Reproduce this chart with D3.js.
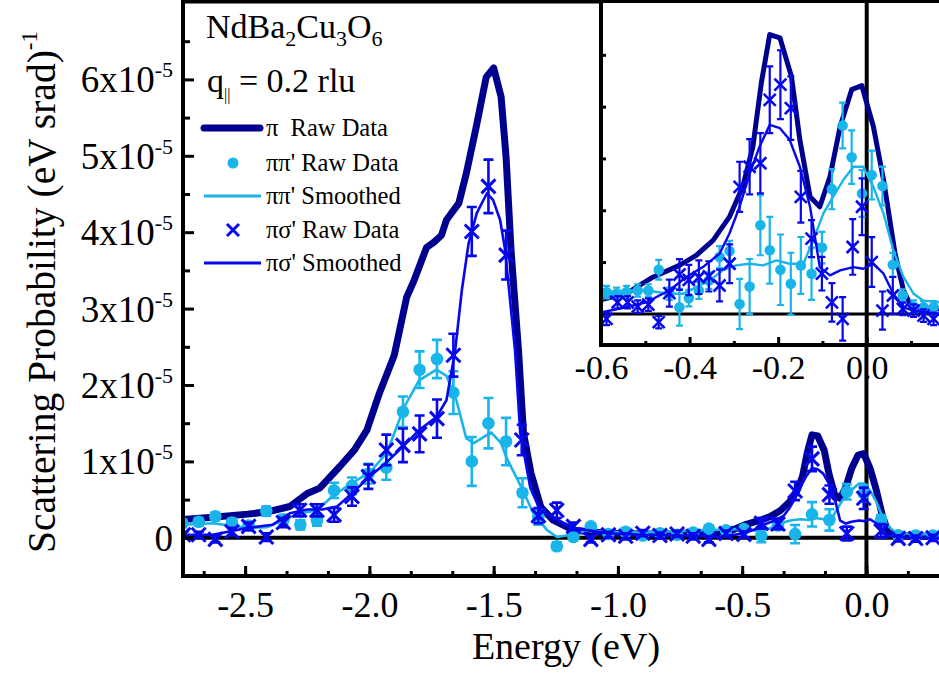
<!DOCTYPE html>
<html>
<head>
<meta charset="utf-8">
<script src="https://cdn.jsdelivr.net/npm/d3@7"></script>
<style>
  html, body { margin: 0; padding: 0; background: #fff; }
  svg { display: block; font-family: "Liberation Serif", "Times New Roman", serif; }
</style>
</head>
<body>
<svg id="chart" width="939" height="675"></svg>
<script>
/* NdBa2Cu3O6, q|| = 0.2 rlu : RIXS scattering probability vs energy loss,
   with a zoomed inset of the low-energy region. Values in units of 1e-5. */

// π raw data (energy eV, value)
const piRaw = [
  [-2.75, 0.24], [-2.63, 0.27], [-2.49, 0.31], [-2.41, 0.34], [-2.32, 0.41], [-2.25, 0.58],
  [-2.20, 0.65], [-2.12, 0.93], [-2.06, 1.15], [-2.01, 1.41], [-1.96, 1.89], [-1.90, 2.39],
  [-1.85, 3.15], [-1.82, 3.37], [-1.77, 3.80], [-1.74, 3.87], [-1.71, 3.96], [-1.69, 4.16],
  [-1.64, 4.38], [-1.61, 4.77], [-1.57, 5.38], [-1.53, 6.03], [-1.50, 6.15], [-1.47, 5.77],
  [-1.45, 4.98], [-1.43, 3.76], [-1.40, 2.45], [-1.38, 1.37], [-1.35, 0.85], [-1.31, 0.40],
  [-1.26, 0.23], [-1.18, 0.10], [-1.04, 0.06], [-0.90, 0.05], [-0.76, 0.05], [-0.65, 0.07],
  [-0.597, 0.07], [-0.544, 0.097], [-0.483, 0.177], [-0.423, 0.234], [-0.385, 0.282],
  [-0.347, 0.355], [-0.310, 0.468], [-0.280, 0.613], [-0.257, 0.807], [-0.238, 1.114],
  [-0.219, 1.348], [-0.196, 1.332], [-0.170, 1.146], [-0.151, 0.840], [-0.128, 0.565],
  [-0.106, 0.517], [-0.083, 0.662], [-0.060, 0.904], [-0.034, 1.082], [-0.011, 1.101],
  [0.015, 0.904], [0.038, 0.646], [0.064, 0.291], [0.083, 0.113], [0.098, 0.048],
  [0.121, 0.032], [0.164, 0.024], [0.30, 0.02]
];

// ππ' smoothed
const ppSmooth = [
  [-2.76, 0.17], [-2.63, 0.19], [-2.49, 0.13], [-2.41, 0.14], [-2.35, 0.23], [-2.28, 0.32],
  [-2.21, 0.36], [-2.15, 0.54], [-2.07, 0.72], [-2.00, 0.85], [-1.93, 1.11], [-1.86, 1.71],
  [-1.80, 2.06], [-1.73, 2.20], [-1.69, 2.12], [-1.65, 1.80], [-1.61, 1.30], [-1.58, 1.24],
  [-1.51, 1.38], [-1.47, 1.24], [-1.45, 1.06], [-1.39, 0.67], [-1.34, 0.32], [-1.285, 0.10],
  [-1.245, 0.01], [-1.19, 0.04], [-1.12, 0.10], [-1.06, 0.08], [-0.90, 0.07], [-0.75, 0.09],
  [-0.65, 0.10], [-0.597, 0.105], [-0.544, 0.113], [-0.498, 0.113], [-0.446, 0.097],
  [-0.415, 0.097], [-0.385, 0.129], [-0.355, 0.161], [-0.325, 0.210], [-0.295, 0.234],
  [-0.264, 0.242], [-0.234, 0.234], [-0.204, 0.258], [-0.174, 0.242], [-0.143, 0.242],
  [-0.121, 0.355], [-0.098, 0.484], [-0.076, 0.565], [-0.053, 0.646], [-0.030, 0.710],
  [-0.008, 0.710], [0.015, 0.613], [0.038, 0.484], [0.060, 0.307], [0.083, 0.177],
  [0.106, 0.097], [0.128, 0.064], [0.164, 0.056], [0.30, 0.04]
];

// πσ' smoothed
const psSmooth = [
  [-2.76, 0.04], [-2.63, 0.04], [-2.49, 0.13], [-2.39, 0.17], [-2.32, 0.32], [-2.25, 0.37],
  [-2.19, 0.37], [-2.13, 0.41], [-2.07, 0.58], [-2.00, 0.80], [-1.93, 0.99], [-1.86, 1.21],
  [-1.80, 1.41], [-1.73, 1.58], [-1.69, 1.80], [-1.655, 2.45], [-1.628, 3.24], [-1.601, 3.85],
  [-1.568, 4.25], [-1.527, 4.51], [-1.502, 4.42], [-1.474, 4.16], [-1.454, 3.77], [-1.434, 3.11],
  [-1.414, 2.45], [-1.393, 1.37], [-1.353, 0.66], [-1.313, 0.36], [-1.261, 0.27], [-1.194, 0.14],
  [-1.124, 0.10], [-1.043, 0.06], [-0.90, 0.04], [-0.75, 0.03], [-0.65, 0.02],
  [-0.597, 0.008], [-0.544, 0.032], [-0.498, 0.056], [-0.446, 0.113], [-0.408, 0.177],
  [-0.370, 0.226], [-0.332, 0.291], [-0.310, 0.388], [-0.287, 0.517], [-0.264, 0.678],
  [-0.242, 0.807], [-0.219, 0.912], [-0.196, 0.896], [-0.174, 0.840], [-0.151, 0.710],
  [-0.128, 0.517], [-0.106, 0.226], [-0.083, 0.186], [-0.060, 0.210], [-0.030, 0.226],
  [-0.008, 0.218], [0.015, 0.242], [0.038, 0.194], [0.060, 0.097], [0.083, 0.032],
  [0.106, 0.016], [0.164, 0.0], [0.30, 0.0]
];

// ππ' raw points in the main panel (energy, value, error)
const ppRawMain = [
  [-2.753, 0.19, 0.05], [-2.687, 0.21, 0.05], [-2.620, 0.28, 0.05], [-2.553, 0.20, 0.05],
  [-2.486, 0.16, 0.05], [-2.415, 0.35, 0.06], [-2.346, 0.24, 0.06], [-2.278, 0.17, 0.06],
  [-2.211, 0.23, 0.07], [-2.142, 0.62, 0.10], [-2.070, 0.68, 0.11], [-2.004, 0.84, 0.13],
  [-1.932, 0.92, 0.16], [-1.865, 1.65, 0.20], [-1.798, 2.20, 0.24], [-1.728, 2.34, 0.25],
  [-1.662, 1.90, 0.28], [-1.588, 1.00, 0.32], [-1.521, 1.50, 0.33], [-1.450, 1.26, 0.31],
  [-1.384, 0.59, 0.19], [-1.320, 0.27, 0.10], [-1.246, -0.11, 0.05], [-1.179, 0.01, 0.04],
  [-1.109, 0.15, 0.04], [-1.038, 0.05, 0.04], [-0.969, 0.08, 0.04], [-0.900, 0.03, 0.04],
  [-0.831, 0.06, 0.04], [-0.762, 0.04, 0.04], [-0.697, 0.07, 0.04], [-0.634, 0.12, 0.04],
  [-0.565, 0.097, 0.04], [-0.493, 0.113, 0.04], [-0.423, 0.032, 0.09], [-0.356, 0.161, 0.05],
  [-0.287, 0.048, 0.12], [-0.219, 0.307, 0.16], [-0.149, 0.234, 0.14], [-0.079, 0.602, 0.10],
  [-0.011, 0.581, 0.11], [0.059, 0.237, 0.06], [0.128, 0.032, 0.03], [0.198, 0.03, 0.03],
  [0.268, 0.03, 0.03]
];

// πσ' raw points in the main panel (energy, value, error)
const psRawMain = [
  [-2.748, 0.04, 0.04], [-2.687, 0.04, 0.04], [-2.620, -0.02, 0.04], [-2.553, 0.08, 0.05],
  [-2.486, 0.15, 0.05], [-2.415, 0.01, 0.05], [-2.346, 0.20, 0.06], [-2.281, 0.36, 0.08],
  [-2.211, 0.36, 0.08], [-2.142, 0.30, 0.09], [-2.070, 0.54, 0.12], [-2.004, 0.80, 0.16],
  [-1.932, 1.15, 0.20], [-1.865, 1.21, 0.22], [-1.798, 1.36, 0.24], [-1.728, 1.56, 0.25],
  [-1.662, 2.39, 0.28], [-1.588, 4.01, 0.32], [-1.521, 4.60, 0.35], [-1.450, 3.70, 0.32],
  [-1.387, 1.28, 0.20], [-1.320, 0.29, 0.10], [-1.246, 0.36, 0.10], [-1.179, 0.15, 0.05],
  [-1.109, -0.02, 0.04], [-1.038, 0.04, 0.04], [-0.969, 0.02, 0.04], [-0.900, 0.06, 0.04],
  [-0.831, 0.03, 0.04], [-0.762, 0.05, 0.04], [-0.697, 0.02, 0.04], [-0.634, -0.02, 0.04],
  [-0.565, 0.056, 0.04], [-0.493, 0.045, 0.04], [-0.423, 0.190, 0.07], [-0.356, 0.181, 0.07],
  [-0.287, 0.613, 0.12], [-0.219, 1.033, 0.16], [-0.149, 0.565, 0.12], [-0.079, 0.056, 0.09],
  [-0.011, 0.517, 0.14], [0.059, 0.089, 0.09], [0.128, -0.008, 0.04], [0.198, -0.01, 0.04],
  [0.268, 0.0, 0.04]
];

// ππ' raw points in the inset (denser sampling)
const ppRawInset = [
  [-0.5875, 0.105, 0.03], [-0.5648, 0.097, 0.03], [-0.5422, 0.105, 0.03], [-0.5172, 0.113, 0.03],
  [-0.4931, 0.113, 0.03], [-0.4697, 0.213, 0.048], [-0.4456, 0.097, 0.03], [-0.4229, 0.032, 0.089],
  [-0.4017, 0.076, 0.04], [-0.3791, 0.113, 0.04], [-0.3564, 0.161, 0.04], [-0.3323, 0.274, 0.053],
  [-0.3097, 0.303, 0.05], [-0.2870, 0.048, 0.121], [-0.2644, 0.132, 0.133], [-0.2402, 0.428, 0.145],
  [-0.2190, 0.307, 0.161], [-0.1949, 0.213, 0.170], [-0.1714, 0.145, 0.150], [-0.1488, 0.234, 0.137],
  [-0.1246, 0.194, 0.126], [-0.1012, 0.320, 0.076], [-0.0786, 0.602, 0.097], [-0.0544, 0.909, 0.110],
  [-0.0340, 0.756, 0.129], [-0.0106, 0.581, 0.113], [0.0113, 0.670, 0.118], [0.0355, 0.617, 0.094],
  [0.0589, 0.237, 0.057], [0.0815, 0.089, 0.03], [0.1057, 0.035, 0.03], [0.1284, 0.032, 0.03],
  [0.1510, 0.032, 0.03]
];

// πσ' raw points in the inset
const psRawInset = [
  [-0.5875, -0.024, 0.03], [-0.5626, 0.056, 0.03], [-0.5399, 0.056, 0.03], [-0.5172, 0.035, 0.03],
  [-0.4931, 0.045, 0.03], [-0.4697, -0.040, 0.03], [-0.4456, 0.100, 0.065], [-0.4229, 0.190, 0.074],
  [-0.4017, 0.164, 0.073], [-0.3791, 0.177, 0.081], [-0.3564, 0.181, 0.073], [-0.3323, 0.137, 0.077],
  [-0.3097, 0.242, 0.093], [-0.2870, 0.613, 0.121], [-0.2644, 0.710, 0.133], [-0.2402, 0.727, 0.145],
  [-0.2190, 1.033, 0.161], [-0.1949, 1.106, 0.166], [-0.1714, 0.993, 0.153], [-0.1488, 0.565, 0.125],
  [-0.1246, 0.363, 0.089], [-0.1012, 0.194, 0.081], [-0.0786, 0.056, 0.093], [-0.0544, -0.024, 0.105],
  [-0.0317, 0.323, 0.134], [-0.0106, 0.517, 0.137], [0.0113, 0.250, 0.120], [0.0355, 0.016, 0.092],
  [0.0589, 0.089, 0.089], [0.0815, 0.024, 0.03], [0.1057, 0.016, 0.03], [0.1284, -0.008, 0.03],
  [0.1510, -0.024, 0.03]
];

// axis ticks
const xMajor = [-2.5, -2.0, -1.5, -1.0, -0.5, 0.0];
const xMinor = d3.range(-2.6667, 0.3, 1 / 6);
const yMajor = [0, 1, 2, 3, 4, 5, 6];
const yMinor = [-0.5, 0.5, 1.5, 2.5, 3.5, 4.5, 5.5, 6.5];
const insetXMajor = [-0.6, -0.4, -0.2, 0.0];
const insetXMinor = [-0.5, -0.3, -0.1, 0.1];
const insetYTicks = [0.25, 0.5, 0.75, 1.0, 1.25];

const legendItems = ["π\u00A0\u00A0Raw Data", "ππ' Raw Data", "ππ' Smoothed", "πσ' Raw Data", "πσ' Smoothed"];

const C_PI = "#00008F";
const C_PP = "#18B4EA";
const C_PS = "#0707EE";
const SERIF = "Liberation Serif, Times New Roman, serif";

const svg = d3.select("#chart");
const defs = svg.append("defs");

// main scales
const x = d3.scaleLinear().domain([-2.75, 0.3]).range([183, 941]);
const y = d3.scaleLinear().domain([-0.5, 7]).range([576, 3]);
// inset scales
const xi = d3.scaleLinear().domain([-0.6, 0.2]).range([601, 955.3]);
const yi = d3.scaleLinear().domain([-0.15, 1.5]).range([345, 3]);

defs.append("clipPath").attr("id", "clipMain").append("rect")
  .attr("x", 183).attr("y", 3).attr("width", 758).attr("height", 573);
defs.append("clipPath").attr("id", "clipInset").append("rect")
  .attr("x", 601).attr("y", 3).attr("width", 354).attr("height", 342);

function drawSeries(g, sx, sy, ppPts, psPts, o) {
  const line = d3.line().x(d => sx(d[0])).y(d => sy(d[1]));
  g.append("path").datum(piRaw).attr("d", line).attr("fill", "none")
    .attr("stroke", C_PI).attr("stroke-width", o.thick).attr("stroke-linejoin", "round");

  // ππ' error bars + circles
  const pp = g.append("g");
  pp.selectAll("path.err").data(ppPts).join("path").attr("class", "err")
    .attr("d", d => {
      const cx = sx(d[0]), t = sy(d[1] + d[2]), b = sy(d[1] - d[2]), w = o.cap;
      return `M${cx},${t}V${b}M${cx - w},${t}H${cx + w}M${cx - w},${b}H${cx + w}`;
    })
    .attr("stroke", C_PP).attr("stroke-width", o.errW).attr("fill", "none");
  pp.selectAll("circle").data(ppPts).join("circle")
    .attr("cx", d => sx(d[0])).attr("cy", d => sy(d[1])).attr("r", o.r).attr("fill", C_PP);
  g.append("path").datum(ppSmooth).attr("d", line).attr("fill", "none")
    .attr("stroke", C_PP).attr("stroke-width", o.thin).attr("stroke-linejoin", "round");

  // πσ' error bars + crosses
  const ps = g.append("g");
  ps.selectAll("path.err").data(psPts).join("path").attr("class", "err")
    .attr("d", d => {
      const cx = sx(d[0]), t = sy(d[1] + d[2]), b = sy(d[1] - d[2]), w = o.cap;
      return `M${cx},${t}V${b}M${cx - w},${t}H${cx + w}M${cx - w},${b}H${cx + w}`;
    })
    .attr("stroke", C_PS).attr("stroke-width", o.errW).attr("fill", "none");
  ps.selectAll("path.x").data(psPts).join("path").attr("class", "x")
    .attr("d", d => {
      const cx = sx(d[0]), cy = sy(d[1]), s = o.xs;
      return `M${cx - s},${cy - s}L${cx + s},${cy + s}M${cx - s},${cy + s}L${cx + s},${cy - s}`;
    })
    .attr("stroke", C_PS).attr("stroke-width", o.xw).attr("fill", "none");
  g.append("path").datum(psSmooth).attr("d", line).attr("fill", "none")
    .attr("stroke", C_PS).attr("stroke-width", o.thin).attr("stroke-linejoin", "round");
}

// ---------- main panel ----------
// zero lines
svg.append("line").attr("x1", 183).attr("x2", 941).attr("y1", y(0)).attr("y2", y(0))
  .attr("stroke", "#000").attr("stroke-width", 4);
svg.append("line").attr("x1", x(0)).attr("x2", x(0)).attr("y1", 3).attr("y2", 576)
  .attr("stroke", "#000").attr("stroke-width", 4);

const gMain = svg.append("g").attr("clip-path", "url(#clipMain)");
drawSeries(gMain, x, y, ppRawMain, psRawMain,
  { thick: 7, thin: 2.6, r: 6.3, cap: 5, errW: 2.6, xs: 7, xw: 3 });

// x axis (ticks inward)
const xAxis = svg.append("g").attr("transform", "translate(0,576)")
  .call(d3.axisBottom(x).tickValues(xMajor).tickSize(-10).tickPadding(15)
    .tickFormat(d3.format(".1f")));
xAxis.select(".domain").remove();
xAxis.selectAll(".tick line").attr("stroke-width", 3);
xAxis.selectAll("text").attr("font-size", 36).attr("font-family", SERIF)
  .attr("fill", "#000").text(d => d3.format(".1f")(d).replace("−", "-"));
svg.append("g").attr("transform", "translate(0,576)")
  .call(d3.axisBottom(x).tickValues(xMinor).tickSize(-5).tickFormat(""))
  .call(a => a.select(".domain").remove())
  .selectAll(".tick line").attr("stroke-width", 3);

// y axis (ticks inward)
const yAxis = svg.append("g").attr("transform", "translate(183,0)")
  .call(d3.axisLeft(y).tickValues(yMajor).tickSize(-11).tickPadding(10));
yAxis.select(".domain").remove();
yAxis.selectAll(".tick line").attr("stroke-width", 3);
yAxis.selectAll("text").attr("font-size", 37).attr("font-family", SERIF)
  .attr("fill", "#000").attr("dy", "0.34em")
  .each(function (d) {
    const t = d3.select(this).text("");
    if (d === 0) { t.text("0"); return; }
    t.append("tspan").text(d + "x10");
    t.append("tspan").attr("font-size", 22).attr("dy", -15).text("-5");
  });
svg.append("g").attr("transform", "translate(183,0)")
  .call(d3.axisLeft(y).tickValues(yMinor).tickSize(-7).tickFormat(""))
  .call(a => a.select(".domain").remove())
  .selectAll(".tick line").attr("stroke-width", 3);

// frame
svg.append("path").attr("d", "M941,1.5H183V576H941").attr("fill", "none")
  .attr("stroke", "#000").attr("stroke-width", 4);

// axis titles
svg.append("text").attr("x", 566).attr("y", 659).attr("text-anchor", "middle")
  .attr("font-size", 38).text("Energy (eV)");
const yt = svg.append("text").attr("transform", "translate(55,292) rotate(-90)")
  .attr("text-anchor", "middle").attr("font-size", 39.5);
yt.append("tspan").text("Scattering Probability (eV srad)");
yt.append("tspan").attr("font-size", 23).attr("dy", -18).text("-1");

// sample text
const t1 = svg.append("text").attr("x", 206).attr("y", 38).attr("font-size", 34);
[["NdBa", 0], ["2", 1], ["Cu", 0], ["3", 1], ["O", 0], ["6", 1]].forEach(([s, sub], i, arr) => {
  const prevSub = i > 0 && arr[i - 1][1];
  t1.append("tspan").text(s).attr("font-size", sub ? 22 : 34)
    .attr("dy", sub ? 8 : (prevSub ? -8 : 0));
});
const t2 = svg.append("text").attr("x", 207).attr("y", 92).attr("font-size", 34);
t2.append("tspan").text("q");
t2.append("tspan").attr("font-size", 16).attr("dy", 8).text("||");
t2.append("tspan").attr("dy", -8).text(" = 0.2 rlu");

// legend
const legY = [128, 163, 196, 230, 263];
const lg = svg.append("g");
lg.append("line").attr("x1", 204).attr("x2", 260).attr("y1", legY[0]).attr("y2", legY[0])
  .attr("stroke", C_PI).attr("stroke-width", 7).attr("stroke-linecap", "round");
lg.append("circle").attr("cx", 233).attr("cy", legY[1]).attr("r", 5.5).attr("fill", C_PP);
lg.append("line").attr("x1", 204).attr("x2", 261).attr("y1", legY[2]).attr("y2", legY[2])
  .attr("stroke", C_PP).attr("stroke-width", 3);
lg.append("path").attr("d", `M227,${legY[3] - 6}l12,12M227,${legY[3] + 6}l12,-12`)
  .attr("stroke", C_PS).attr("stroke-width", 3);
lg.append("line").attr("x1", 204).attr("x2", 261).attr("y1", legY[4]).attr("y2", legY[4])
  .attr("stroke", C_PS).attr("stroke-width", 3);
lg.selectAll("text").data(legendItems).join("text")
  .attr("x", 266).attr("y", (d, i) => legY[i] + 8).attr("font-size", 24.5).text(d => d);

// ---------- inset ----------
svg.append("rect").attr("x", 601).attr("y", 3).attr("width", 340).attr("height", 342).attr("fill", "#fff");
svg.append("line").attr("x1", 601).attr("x2", 941).attr("y1", yi(0)).attr("y2", yi(0))
  .attr("stroke", "#000").attr("stroke-width", 3);
svg.append("line").attr("x1", xi(0)).attr("x2", xi(0)).attr("y1", 3).attr("y2", 345)
  .attr("stroke", "#000").attr("stroke-width", 4);

const gIn = svg.append("g").attr("clip-path", "url(#clipInset)");
drawSeries(gIn, xi, yi, ppRawInset, psRawInset,
  { thick: 5, thin: 2.4, r: 5.3, cap: 3.5, errW: 2.2, xs: 6, xw: 2.6 });

const ixAxis = svg.append("g").attr("transform", "translate(0,345)")
  .call(d3.axisBottom(xi).tickValues(insetXMajor).tickSize(-8).tickPadding(10)
    .tickFormat(d3.format(".1f")));
ixAxis.select(".domain").remove();
ixAxis.selectAll(".tick line").attr("stroke-width", 3);
ixAxis.selectAll("text").attr("font-size", 34).attr("font-family", SERIF)
  .attr("fill", "#000").text(d => d3.format(".1f")(d).replace("−", "-"));
svg.append("g").attr("transform", "translate(0,345)")
  .call(d3.axisBottom(xi).tickValues(insetXMinor).tickSize(-4).tickFormat(""))
  .call(a => a.select(".domain").remove())
  .selectAll(".tick line").attr("stroke-width", 3);
svg.append("g").attr("transform", "translate(601,0)")
  .call(d3.axisLeft(yi).tickValues(insetYTicks).tickSize(-5).tickFormat(""))
  .call(a => a.select(".domain").remove())
  .selectAll(".tick line").attr("stroke-width", 3);

svg.append("path").attr("d", "M601,1.5V345H941").attr("fill", "none")
  .attr("stroke", "#000").attr("stroke-width", 4);
</script>
</body>
</html>
